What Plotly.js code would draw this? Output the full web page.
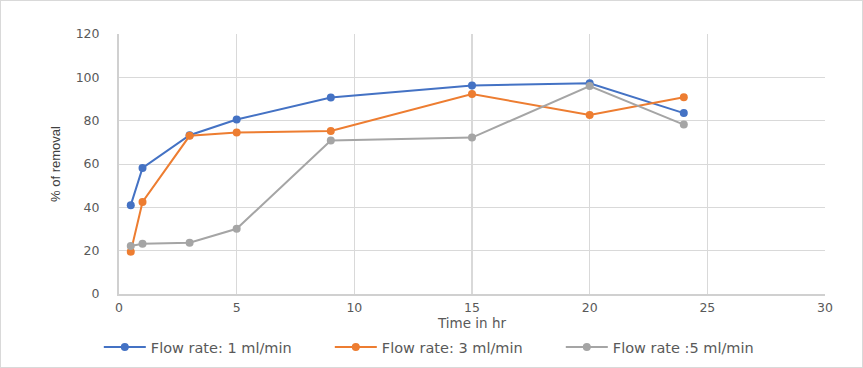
<!DOCTYPE html>
<html><head><meta charset="utf-8">
<script src="https://cdn.plot.ly/plotly-3.0.1.min.js"></script>
<style>
body{margin:0;padding:0;background:#fff;}
#wrap{position:relative;width:863px;height:368px;}
#chart{width:863px;height:368px;}
#frame{position:absolute;left:0;top:0;width:861px;height:366px;border:1px solid #d9d9d9;pointer-events:none;}
</style></head>
<body>
<div id="wrap"><div id="chart"></div><div id="frame"></div></div>
<script>
const time = [0.5, 1, 3, 5, 9, 15, 20, 24];
const flow1 = [41, 58.2, 73.3, 80.5, 90.7, 96.2, 97.3, 83.5];
const flow3 = [19.5, 42.5, 73, 74.5, 75.2, 92.3, 82.6, 90.8];
const flow5 = [22.2, 23.2, 23.7, 30.1, 70.8, 72.2, 96, 78.2];
const seriesNames = ['Flow rate: 1 ml/min', 'Flow rate: 3 ml/min', 'Flow rate :5 ml/min'];
const colors = ['#4472C4', '#ED7D31', '#A5A5A5'];
const xTicks = [0, 5, 10, 15, 20, 25, 30];
const yTicks = [0, 20, 40, 60, 80, 100, 120];

const wide = 'DejaVu Sans, Verdana, sans-serif';
const narrow = 'Liberation Sans, Arial, sans-serif';
const data = [flow1, flow3, flow5].map((ys, i) => ({
  x: time, y: ys, type: 'scatter', mode: 'lines+markers', name: seriesNames[i],
  line: {color: colors[i], width: 2},
  marker: {color: colors[i], size: 8}
}));
const layout = {
  width: 863, height: 368,
  margin: {l: 119, r: 38, t: 34, b: 74, autoexpand: false},
  paper_bgcolor: '#fff', plot_bgcolor: '#fff',
  font: {family: wide, color: '#595959', size: 12},
  showlegend: true,
  legend: {orientation: 'h', x: 0.516, xanchor: 'center', xref: 'container',
           y: 21/368, yref: 'container', yanchor: 'middle',
           font: {size: 14.5, color: '#595959', family: wide}, itemwidth: 42,
           tracegroupgap: 0, entrywidth: 174},
  xaxis: {range: [0, 30], tickvals: xTicks, ticktext: xTicks.map(String), automargin: true,
          showgrid: true, gridcolor: '#d9d9d9', gridwidth: 1.5, zeroline: false,
          showline: true, linecolor: '#d0d0d0', linewidth: 1.5,
          ticks: 'outside', ticklen: 1, tickcolor: 'rgba(0,0,0,0)',
          tickfont: {size: 12.5},
          title: {text: 'Time in hr', font: {size: 13.5, color: '#595959', family: wide}, standoff: 6}},
  yaxis: {range: [0, 120], tickvals: yTicks, ticktext: yTicks.map(String), automargin: true,
          showgrid: true, gridcolor: '#d9d9d9', gridwidth: 1, zeroline: false,
          showline: true, linecolor: '#d0d0d0', linewidth: 2, ticks: '', ticklabelstandoff: 15,
          tickfont: {size: 12.5},
          title: {text: '% of removal', font: {size: 13, color: '#404040', family: narrow}, standoff: 12}}
};
Plotly.newPlot('chart', data, layout, {displayModeBar: false, staticPlot: true});
</script>
</body></html>
